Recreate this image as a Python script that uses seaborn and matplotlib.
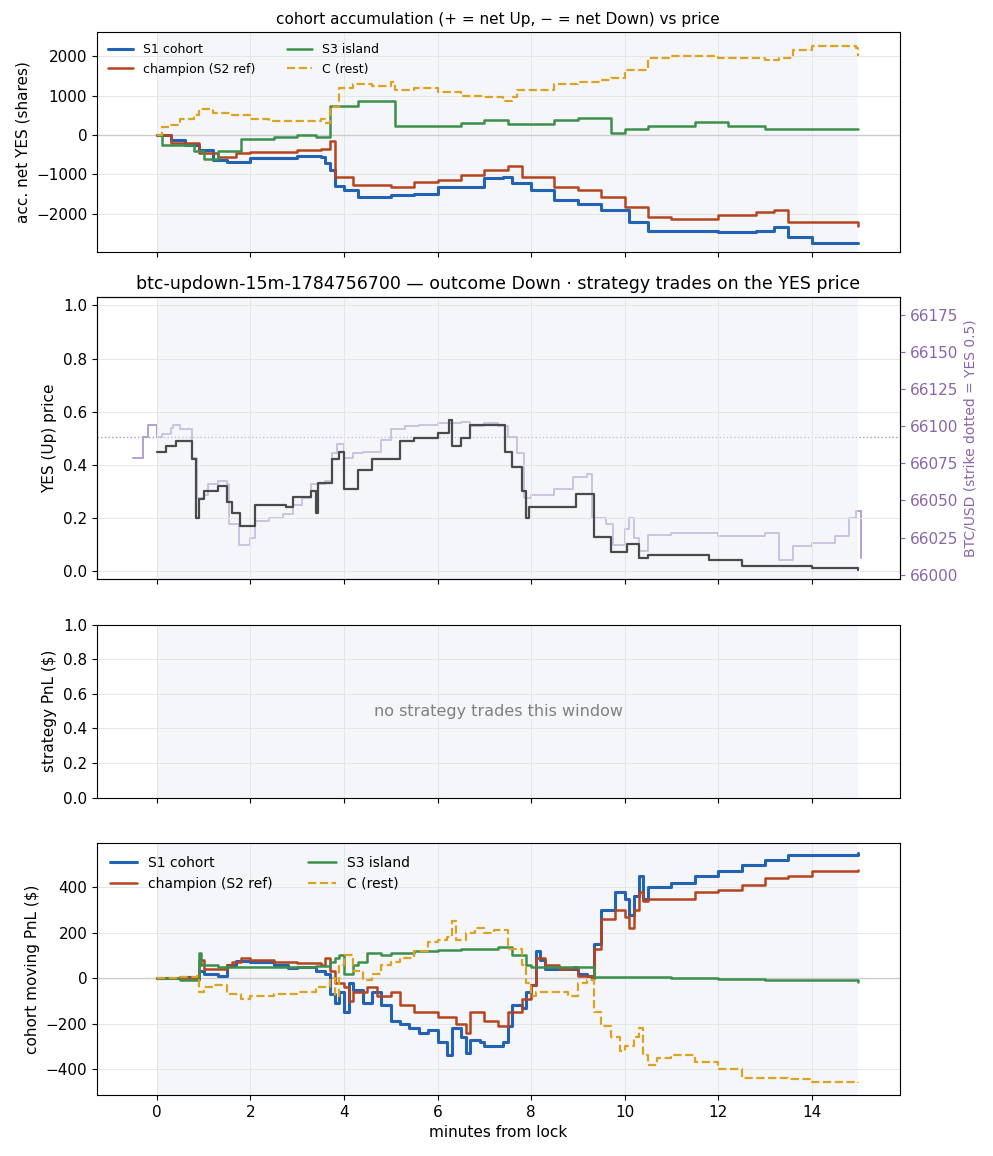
import matplotlib
matplotlib.use("Agg")
import matplotlib.pyplot as plt
import seaborn as sns
import numpy as np
import pandas as pd

# ---- data (minutes from lock) ----
acc_s1_t = [0, 0.3, 0.6, 0.9, 1.2, 1.5, 2.0, 3.0, 3.5, 3.6, 3.7, 3.8, 4.0, 4.3, 5.0, 5.5, 6.0, 7.0, 7.4,
            7.6, 8.0, 8.5, 9.0, 9.5, 10.1, 10.5, 12.0, 12.8, 13.2, 13.5, 14.0, 15.0]
acc_s1_v = [0, -120, -250, -380, -630, -680, -590, -530, -550, -720, -890, -1300, -1400, -1570, -1530,
            -1490, -1320, -1100, -1060, -1230, -1400, -1660, -1740, -1910, -2210, -2430, -2470, -2430,
            -2340, -2600, -2730, -2730]
acc_ch_t = [0, 0.3, 0.9, 1.3, 1.7, 2.0, 3.0, 3.5, 3.7, 3.8, 4.2, 5.0, 5.5, 6.0, 6.5, 7.0, 7.5, 7.8, 8.5,
            9.0, 9.5, 10.0, 10.5, 11.0, 12.0, 12.8, 13.2, 13.5, 15.0]
acc_ch_v = [0, -200, -460, -550, -460, -420, -380, -360, -160, -1060, -1270, -1320, -1190, -1150, -1020,
            -890, -800, -1060, -1320, -1400, -1570, -1830, -2090, -2130, -2040, -1960, -1910, -2210, -2300]
acc_s3_t = [0, 0.1, 0.8, 1.0, 1.3, 1.8, 2.5, 3.0, 3.4, 3.7, 4.3, 5.1, 6.5, 7.0, 7.5, 8.5, 9.0, 9.7, 10.0,
            10.5, 11.5, 12.2, 13.0, 15.0]
acc_s3_v = [0, -250, -400, -600, -400, -100, -50, 0, -50, 735, 860, 220, 300, 390, 265, 390, 430, 50,
            140, 220, 320, 220, 140, 140]
acc_c_t = [0, 0.1, 0.3, 0.5, 0.8, 0.9, 1.2, 1.6, 2.0, 2.4, 3.0, 3.5, 3.6, 3.7, 3.9, 4.2, 4.6, 5.0, 5.1,
           5.5, 6.0, 6.5, 7.0, 7.4, 7.6, 7.7, 8.0, 8.5, 9.0, 9.5, 9.7, 10.0, 10.5, 11.0, 11.5, 12.0,
           12.5, 13.0, 13.3, 13.6, 14.0, 14.5, 14.95, 15.0]
acc_c_v = [0, 200, 250, 400, 500, 650, 550, 500, 400, 350, 350, 400, 300, 700, 1200, 1300, 1250, 1350,
           1150, 1200, 1100, 1000, 950, 850, 950, 1150, 1150, 1300, 1350, 1400, 1450, 1650, 1950, 2000,
           2000, 1950, 1950, 1900, 1950, 2150, 2250, 2250, 2200, 2000]

yes_t = [0, 0.2, 0.4, 0.75, 0.83, 0.9, 1.0, 1.3, 1.5, 1.6, 1.77, 2.1, 2.76, 2.9, 3.3, 3.4, 3.45, 3.75,
         3.9, 4.0, 4.3, 4.6, 5.2, 5.5, 6.0, 6.25, 6.3, 6.5, 6.7, 7.35, 7.45, 7.6, 7.8, 7.9, 7.95, 8.85,
         8.95, 9.3, 9.35, 9.7, 10.05, 10.3, 10.5, 11.2, 11.8, 12.5, 14.0, 15.0]
yes_p = [0.45, 0.47, 0.49, 0.42, 0.20, 0.27, 0.30, 0.32, 0.26, 0.22, 0.17, 0.25, 0.24, 0.28, 0.30, 0.22,
         0.33, 0.42, 0.45, 0.31, 0.38, 0.42, 0.49, 0.50, 0.52, 0.57, 0.47, 0.50, 0.55, 0.55, 0.45, 0.39,
         0.30, 0.20, 0.24, 0.24, 0.29, 0.29, 0.13, 0.07, 0.10, 0.05, 0.06, 0.06, 0.04, 0.02, 0.01, 0.005]
btc_t = [-0.5, -0.35, -0.3, -0.2, -0.05, 0.0, 0.1, 0.3, 0.35, 0.5, 0.7, 0.75, 0.85, 1.0, 1.1, 1.3, 1.5,
         1.55, 1.75, 2.0, 2.1, 2.4, 2.7, 2.9, 3.1, 3.3, 3.6, 3.75, 3.85, 4.0, 4.2, 4.4, 4.8, 5.0, 5.3,
         5.6, 6.0, 6.5, 6.7, 7.0, 7.3, 7.5, 7.7, 7.85, 8.0, 8.5, 8.9, 9.2, 9.3, 9.6, 9.75, 10.0, 10.1,
         10.2, 10.3, 10.5, 11.0, 12.0, 13.0, 13.3, 13.6, 14.0, 14.5, 14.8, 14.95, 15.05]
btc_usd = [66079, 66079, 66093, 66101, 66101, 66093, 66095, 66099, 66101, 66098, 66098, 66079, 66052,
           66054, 66061, 66063, 66061, 66034, 66020, 66025, 66036, 66038, 66041, 66047, 66052, 66061,
           66063, 66082, 66088, 66079, 66082, 66083, 66091, 66098, 66100, 66101, 66102, 66103, 66100,
           66102, 66100, 66093, 66082, 66052, 66054, 66058, 66066, 66068, 66038, 66034, 66020, 66031,
           66038, 66025, 66016, 66027, 66028, 66026, 66028, 66010, 66019, 66021, 66026, 66038, 66043, 66011]
strike_usd = 66093

pnl_s1_t = [0, 0.5, 0.85, 0.9, 1.0, 1.3, 1.5, 1.7, 2.0, 2.5, 2.8, 3.0, 3.4, 3.6, 3.7, 3.8, 3.9, 4.0, 4.1,
            4.2, 4.4, 4.6, 4.8, 5.0, 5.2, 5.4, 5.6, 5.8, 6.0, 6.2, 6.3, 6.5, 6.6, 6.7, 6.9, 7.0, 7.4,
            7.5, 7.6, 7.8, 7.9, 8.0, 8.1, 8.2, 8.3, 9.0, 9.2, 9.3, 9.35, 9.5, 9.8, 10.0, 10.1, 10.2,
            10.3, 10.4, 10.5, 11.0, 11.5, 12.0, 12.5, 13.0, 13.5, 15.0]
pnl_s1_v = [0, 5, -5, 30, 20, 10, 60, 75, 70, 60, 45, 50, 30, 20, -70, -110, -60, -150, -20, -50, -110,
            -60, -120, -190, -200, -220, -240, -230, -280, -340, -220, -260, -330, -270, -280, -300,
            -280, -210, -120, -130, -60, -30, 120, 80, 40, 20, 10, 0, 150, 300, 380, 350, 280, 360,
            450, 350, 400, 420, 450, 470, 500, 520, 540, 550]
pnl_ch_t = [0, 0.85, 0.9, 1.0, 1.5, 1.6, 1.8, 2.0, 2.5, 3.0, 3.5, 3.6, 3.7, 3.8, 4.0, 4.1, 4.2, 4.5, 4.7,
            5.0, 5.2, 5.5, 6.0, 6.4, 6.6, 6.7, 7.0, 7.3, 7.5, 7.8, 8.0, 8.1, 8.3, 8.6, 8.9, 9.0, 9.3,
            9.35, 9.5, 9.8, 10.0, 10.1, 10.2, 10.3, 10.4, 10.5, 11.5, 12.0, 12.5, 13.0, 13.5, 14.0, 15.0]
pnl_ch_v = [0, 10, 80, 40, 60, 70, 90, 80, 70, 65, 60, 90, 30, -20, -40, -100, -60, -40, -80, -60,
            -120, -150, -170, -200, -240, -150, -190, -210, -150, -90, -30, 90, 60, 40, 50, 10, 0, 130,
            260, 300, 270, 220, 300, 380, 340, 350, 380, 390, 410, 440, 450, 470, 475]
pnl_s3_t = [0, 0.5, 0.85, 0.9, 0.95, 1.3, 3.4, 3.7, 3.8, 3.9, 4.0, 4.2, 4.3, 4.5, 4.8, 5.0, 5.5, 6.0,
            6.5, 7.3, 7.6, 7.9, 8.0, 9.3, 9.35, 11.0, 12.0, 13.0, 15.0]
pnl_s3_v = [0, -10, -10, 110, 60, 50, 55, 70, 90, 100, 20, 60, 70, 110, 100, 110, 120, 125, 130, 135,
            100, 60, 50, 50, 5, 0, -5, -10, -15]
pnl_c_t = [0, 0.5, 0.85, 0.9, 1.0, 1.2, 1.5, 1.8, 2.0, 2.5, 3.0, 3.4, 3.7, 3.8, 3.9, 4.0, 4.2, 4.4, 4.6,
           4.8, 5.0, 5.2, 5.5, 5.8, 6.0, 6.2, 6.3, 6.4, 6.6, 6.8, 7.0, 7.2, 7.5, 7.8, 7.9, 8.0, 8.1, 8.8,
           9.0, 9.2, 9.35, 9.5, 9.7, 9.9, 10.0, 10.2, 10.3, 10.4, 10.5, 10.7, 11.0, 11.5, 12.0, 12.5,
           13.5, 14.0, 15.0]
pnl_c_v = [0, 5, 10, -60, -40, -30, -70, -90, -80, -70, -60, -40, 0, -80, 60, 100, 30, -10, 20, 60, 70,
           90, 120, 160, 170, 180, 250, 170, 200, 220, 200, 210, 130, 60, -20, -80, -60, -80, -20, -10,
           -150, -210, -260, -320, -300, -260, -220, -340, -380, -350, -340, -370, -400, -440, -445,
           -455, -460]

series_names = ["S1 cohort", "champion (S2 ref)", "S3 island", "C (rest)"]
colors = ["#2463b4", "#b5441f", "#3d8f4c", "#dca321"]
styles = ["-", "-", "-", "--"]

sns.set_style("ticks")
plt.rcParams["font.family"] = ["DejaVu Sans"]
plt.rcParams["text.color"] = "black"
plt.rcParams["axes.labelcolor"] = "black"
plt.rcParams["xtick.color"] = "black"
plt.rcParams["ytick.color"] = "black"

fig, axes = plt.subplots(4, 1, figsize=(9.93, 11.56), dpi=100, sharex=True,
                         gridspec_kw={"height_ratios": [220, 282, 173, 252]})
fig.subplots_adjust(left=0.0977, right=0.906, top=0.9723, bottom=0.0528, hspace=0.198)

for ax in axes:
    ax.axvspan(0, 15, color="#e9edf6", alpha=0.45, lw=0, zorder=0)
    ax.grid(True, color="#e6e6e6", lw=0.7)
    ax.set_axisbelow(True)
    for s in ax.spines.values():
        s.set_visible(True)
        s.set_color("black")


def draw_cohorts(ax, ts, vs):
    for name, t, v, c, ls in zip(series_names, ts, vs, colors, styles):
        df = pd.DataFrame({"t": t, "v": v})
        lw = 2.2 if name == "S1 cohort" else (1.6 if ls == "--" else 1.8)
        sns.lineplot(data=df, x="t", y="v", ax=ax, color=c, linestyle=ls, lw=lw,
                     drawstyle="steps-post", estimator=None, sort=False, label=name)
    ax.axhline(0, color="#cccccc", lw=1, zorder=1)


# panel 1: accumulation
ax = axes[0]
draw_cohorts(ax, [acc_s1_t, acc_ch_t, acc_s3_t, acc_c_t], [acc_s1_v, acc_ch_v, acc_s3_v, acc_c_v])
ax.set_ylim(-2960, 2610)
ax.set_ylabel("acc. net YES (shares)", fontsize=11)
ax.set_title("cohort accumulation (+ = net Up, \u2212 = net Down) vs price", fontsize=11)
ax.legend(loc="upper left", ncol=2, frameon=False, fontsize=9, columnspacing=2.5)

# panel 2: YES price + BTC
ax = axes[1]
sns.lineplot(x=yes_t, y=yes_p, ax=ax, color="#4a4a4a", lw=1.6, drawstyle="steps-post",
             estimator=None, sort=False)
ax.set_ylim(-0.03, 1.03)
ax.set_ylabel("YES (Up) price", fontsize=11)
ax.set_title("btc-updown-15m-1784756700 \u2014 outcome Down \u00b7 strategy trades on the YES price",
             fontsize=12.5)
ax2 = ax.twinx()
sns.lineplot(x=btc_t, y=btc_usd, ax=ax2, color="#b49fd3", lw=1.4, drawstyle="steps-post",
             estimator=None, sort=False, zorder=1)
ax2.axhline(strike_usd, color="#a896c4", ls=":", lw=1)
ax2.set_ylim(65997, 66187)
ax2.set_ylabel("BTC/USD (strike dotted = YES 0.5)", color="#8a66a8", fontsize=10)
ax2.tick_params(axis="y", colors="#8a66a8", labelsize=11)
ax2.grid(False)
ax.set_zorder(ax2.get_zorder() + 1)
ax.patch.set_visible(False)

# panel 3: strategy PnL (empty)
ax = axes[2]
ax.set_ylim(0, 1)
ax.set_ylabel("strategy PnL ($)", fontsize=11)
ax.text(0.5, 0.5, "no strategy trades this window", transform=ax.transAxes,
        ha="center", va="center", color="gray", fontsize=11.5)

# panel 4: cohort moving PnL
ax = axes[3]
draw_cohorts(ax, [pnl_s1_t, pnl_ch_t, pnl_s3_t, pnl_c_t], [pnl_s1_v, pnl_ch_v, pnl_s3_v, pnl_c_v])
ax.set_ylim(-514, 593)
ax.set_ylabel("cohort moving PnL ($)", fontsize=11)
ax.set_xlabel("minutes from lock", fontsize=11)
ax.legend(loc="upper left", ncol=2, frameon=False, fontsize=10, columnspacing=2.5)

axes[3].set_xlim(-1.28, 15.88)
axes[3].set_xticks([0, 2, 4, 6, 8, 10, 12, 14])
for a in axes:
    a.tick_params(labelsize=11)
for a in axes[:3]:
    a.set_xlabel("")

fig.savefig("out.png", dpi=100)
